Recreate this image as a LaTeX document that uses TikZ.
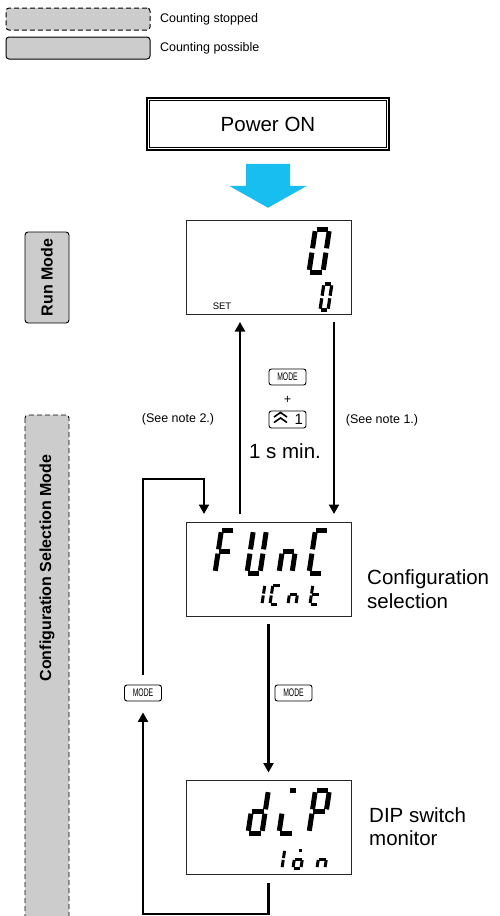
\documentclass[tikz,border=0pt]{standalone}
\usepackage{fontspec}
\setmainfont{Liberation Sans}
\newfontfamily\keyfont[FakeStretch=0.62]{Liberation Sans}
\usetikzlibrary{positioning,arrows.meta,calc}
\definecolor{pwrblue}{RGB}{24,190,240}
\definecolor{barfill}{RGB}{204,204,204}

% one segment of an LCD character (unit cell, slanted by the scope)
\newcommand{\lcdseg}[1]{%
  \if a#1\draw (0.08,1) -- (0.92,1);\fi
  \if b#1\draw (1,0.95) -- (1,0.55);\fi
  \if c#1\draw (1,0.45) -- (1,0.05);\fi
  \if d#1\draw (0.08,0) -- (0.92,0);\fi
  \if e#1\draw (0,0.45) -- (0,0.05);\fi
  \if f#1\draw (0,0.95) -- (0,0.55);\fi
  \if g#1\draw (0.08,0.5) -- (0.92,0.5);\fi
  \if h#1\draw (0.35,1) -- (0.75,1);\fi}
% x, y (bottom left), width, height, line width, segments
\newcommand{\lcdchar}[6]{%
  \begin{scope}[shift={(#1,#2)}, x={(#3pt,0pt)}, y={(0.15*#4pt,#4pt)},
                line width=#5pt]
    \foreach \s in {#6}{\lcdseg{\s}}
  \end{scope}}

\begin{document}
\begin{tikzpicture}[
    x=1pt, y=-1pt,
    font=\fontsize{12.5}{14}\selectfont,
    >={Triangle[length=9.5pt,width=10pt]},
    flow/.style={->, line width=2.2pt},
    lcd/.style={draw=black!85, line width=1pt, minimum width=165pt,
                minimum height=94pt, outer sep=8pt},
    key/.style={draw, rounded corners=2.5pt, line width=0.9pt, inner sep=0pt,
                minimum width=37pt, minimum height=16pt,
                font=\keyfont\fontsize{11}{11}\selectfont},
    modebar/.style={draw, fill=barfill, rounded corners=3pt, line width=0.9pt,
                    rotate=90, minimum height=44pt,
                    font=\fontsize{16}{18}\selectfont\bfseries},
    legbox/.style={draw, fill=barfill, rounded corners=3pt, line width=1pt,
                   minimum width=144pt, minimum height=22pt},
    big/.style={font=\fontsize{20.5}{23.5}\selectfont, align=left, inner sep=0pt},
    chev/.style={line width=1.6pt},
  ]
  \useasboundingbox (0,0) rectangle (499,916);
  \fill[white] (0,0) rectangle (499,916);
  \clip (0,0) rectangle (499,916);

  % ============ Legenda ============
  \node[legbox, dash pattern=on 5pt off 3pt] (legStop) at (78,19) {};
  \node[right=6pt of legStop] (legStopTxt) {Counting stopped};
  \node[legbox] (legRun) at (78,48) {};
  \node[right=6pt of legRun] (legRunTxt) {Counting possible};

  % ============ Barre dei modi ============
  \node[modebar, minimum width=91pt] (runBar) at (47,277.5) {Run Mode};
  \node[modebar, dash pattern=on 5pt off 3pt, minimum width=540pt] (cfgBar)
        at (47,685) {};
  \node[font=\fontsize{16}{18}\selectfont\bfseries, rotate=90] (cfgBarTxt)
        at (47,568) {Configuration Selection Mode};

  % ============ Accensione ============
  \node[draw, line width=1.5pt, minimum width=242pt, minimum height=52pt,
        font=\fontsize{20.5}{23}\selectfont] (pwr) at (268,124) {Power ON};
  \draw[line width=0.7pt] ([shift={(3.2pt,3.2pt)}]pwr.south west)
        rectangle ([shift={(-3.2pt,-3.2pt)}]pwr.north east);
  \fill[pwrblue] ($(pwr.south)+(-22,13)$) -- ++(44,0) -- ++(0,22) -- ++(17,0)
        -- ($(pwr.south)+(0,57)$) -- ($(pwr.south)+(-39,35)$) -- ++(17,0) -- cycle;

  % ============ Display ============
  \node[lcd] (run) at (268.5,267) {};
  \node[font=\fontsize{9.5}{10}\selectfont] (runSet) at (222,306) {SET};
  \lcdchar{309}{272}{14}{43}{5}{a,b,c,d,e,f}
  \lcdchar{320}{310}{8}{26}{3.2}{a,b,c,d,e,f}

  \node[lcd] (cfg) at (268.5,569) {};
  \lcdchar{215}{573}{13}{43}{5}{a,e,f,g}
  \lcdchar{247}{573}{13}{43}{5}{b,c,d,e,f}
  \lcdchar{279}{573}{13}{43}{5}{c,e,g}
  \lcdchar{309}{573}{13}{43}{5}{a,d,e,f}
  \lcdchar{262}{604}{8}{19}{3}{e,f}
  \lcdchar{270}{604}{8}{19}{3}{a,d,e,f}
  \lcdchar{288}{604}{8}{19}{3}{c,e,g}
  \lcdchar{310}{604}{8}{19}{3}{d,e,f,g}
  \node[big, anchor=west] (cfgLab) at (367,589) {Configuration\\selection};

  \node[lcd] (dip) at (268.5,827.5) {};
  \lcdchar{248}{833}{14}{43}{5}{b,c,d,e,g}
  \lcdchar{279}{833}{14}{43}{5}{h,d,e}
  \lcdchar{309}{833}{14}{43}{5}{a,b,e,f,g}
  \lcdchar{282}{868}{8}{18}{3}{e,f}
  \lcdchar{293}{868}{8}{18}{3}{h,c,d,e,g}
  \lcdchar{317}{868}{8}{18}{3}{c,e,g}
  \node[big, anchor=west] (dipLab) at (369,826.5) {DIP switch\\monitor};

  % ============ Passaggi tra i modi ============
  \draw[flow] ([xshift=-28.5pt]cfg.north) -- ([xshift=-28.5pt]run.south);
  \draw[flow] ([xshift=65.5pt]run.south) -- ([xshift=65.5pt]cfg.north);
  \node[key] (keyMode) at (287.5,377) {MODE};
  \node (keyPlus) at (287.5,400) {+};
  \node[key, minimum height=17pt, text width=31pt, align=right,
        font=\fontsize{15}{15}\selectfont] (keyUp) at (287.5,419.5) {1};
  \draw[chev] ([shift={(-13.5pt,2.5pt)}]keyUp.center) -- ++(6.5,-4.5) -- ++(6.5,4.5);
  \draw[chev] ([shift={(-13.5pt,-3pt)}]keyUp.center) -- ++(6.5,-4.5) -- ++(6.5,4.5);
  \node[big] (holdTime) at (285,451) {1 s min.};
  \node (note2) at (178,419) {(See note 2.)};
  \node (note1) at (382,420) {(See note 1.)};

  % ============ Ciclo di configurazione ============
  \draw[flow] (cfg.south) -- (dip.north);
  \node[key] (keyModeR) at (293.5,693) {MODE};
  \node[key] (keyModeL) at (143,693) {MODE};
  \coordinate (loopBot) at (143,914);
  \coordinate (loopTop) at (143,479);
  \draw[flow] (dip.south) |- (loopBot) -- ([yshift=-11pt]keyModeL.south);
  \draw[flow] ([yshift=10pt]keyModeL.north) -- (loopTop)
        -| ([xshift=-64.5pt]cfg.north);

\end{tikzpicture}
\end{document}
